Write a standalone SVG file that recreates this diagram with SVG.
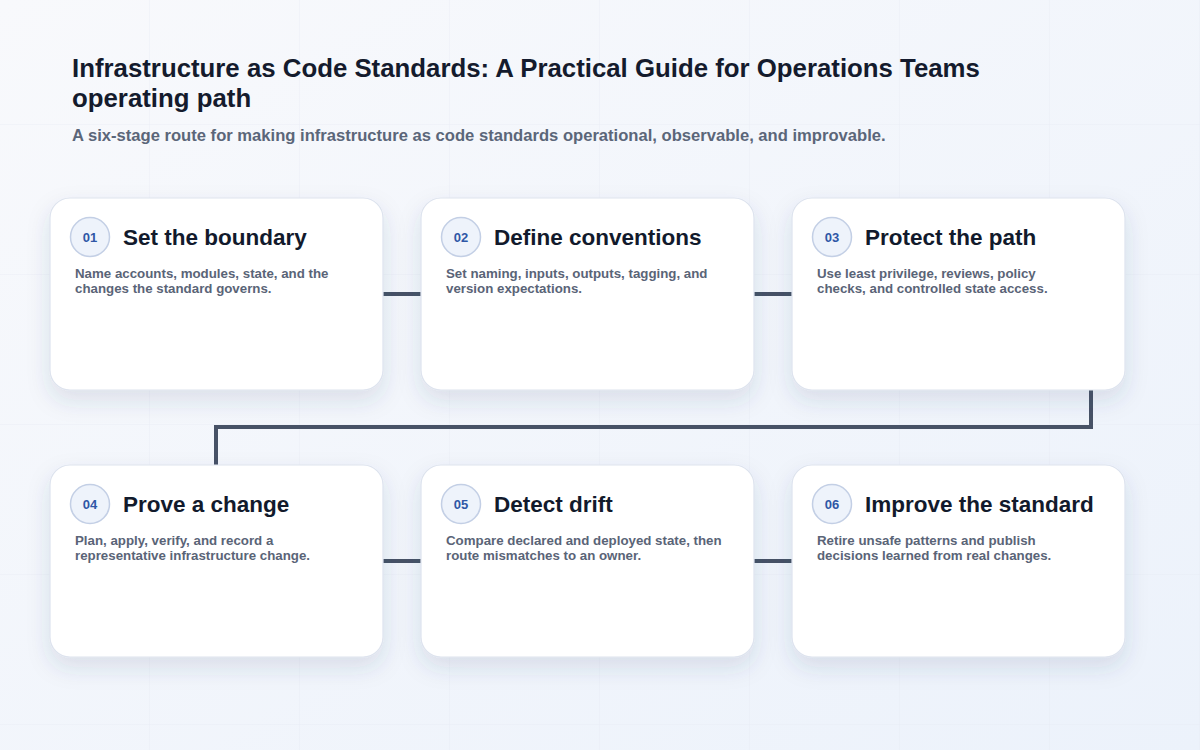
<svg xmlns="http://www.w3.org/2000/svg" width="1200" height="750" viewBox="0 0 1200 750">
<defs>
<linearGradient id="bg" x1="0" y1="0" x2="1" y2="1">
<stop offset="0" stop-color="#f8f9fc"/>
<stop offset="1" stop-color="#ecf2fb"/>
</linearGradient>
<pattern id="grid" x="0" y="-25" width="150" height="150" patternUnits="userSpaceOnUse">
<path d="M150 0V150M0 150H150" fill="none" stroke="#e3e8f0" stroke-width="1" opacity="0.6"/>
</pattern>
<filter id="sh" x="-20%" y="-20%" width="140%" height="150%">
<feDropShadow dx="0" dy="10" stdDeviation="11" flood-color="#27406e" flood-opacity="0.13"/>
</filter>
</defs>
<style>
.card{fill:#ffffff;stroke:#dde3ee;stroke-width:1.2;filter:url(#sh)}
.badge{fill:#eef3fb;stroke:#c3cfe5;stroke-width:1.5}
.num{font-family:"Liberation Sans",Arial,sans-serif;font-weight:700;font-size:13px;fill:#2f57a6;text-anchor:middle}
.ttl{font-family:"Liberation Sans",Arial,sans-serif;font-weight:700;font-size:22.5px;fill:#121a2c}
.desc{font-family:"Liberation Sans",Arial,sans-serif;font-weight:700;font-size:13.3px;fill:#5a6477}
.conn{fill:none;stroke:#475266;stroke-width:4;stroke-linejoin:miter}
</style>
<rect width="1200" height="750" fill="url(#bg)"/>
<rect width="1200" height="750" fill="url(#grid)"/>
<g id="header">
<text x="72" y="77" font-family="Liberation Sans, Arial, sans-serif" font-weight="700" font-size="25.8" fill="#141b2d">Infrastructure as Code Standards: A Practical Guide for Operations Teams</text>
<text x="72" y="107" font-family="Liberation Sans, Arial, sans-serif" font-weight="700" font-size="25.8" fill="#141b2d">operating path</text>
<text x="72" y="141" font-family="Liberation Sans, Arial, sans-serif" font-weight="700" font-size="16.6" fill="#5b6679">A six-stage route for making infrastructure as code standards operational, observable, and improvable.</text>
</g>
<g id="connectors">
<path class="conn" d="M383 294H421"/>
<path class="conn" d="M754 294H792"/>
<path class="conn" d="M1091 390V427H216V465"/>
<path class="conn" d="M383 561H421"/>
<path class="conn" d="M754 561H792"/>
</g>
<g id="node1">
<rect class="card" x="50" y="198" width="333" height="192" rx="20"/>
<circle class="badge" cx="90" cy="237" r="19.5"/>
<text class="num" x="90" y="242">01</text>
<text class="ttl" x="123" y="245">Set the boundary</text>
<text class="desc" x="75" y="278">Name accounts, modules, state, and the</text>
<text class="desc" x="75" y="293">changes the standard governs.</text>
</g>
<g id="node2">
<rect class="card" x="421" y="198" width="333" height="192" rx="20"/>
<circle class="badge" cx="461" cy="237" r="19.5"/>
<text class="num" x="461" y="242">02</text>
<text class="ttl" x="494" y="245">Define conventions</text>
<text class="desc" x="446" y="278">Set naming, inputs, outputs, tagging, and</text>
<text class="desc" x="446" y="293">version expectations.</text>
</g>
<g id="node3">
<rect class="card" x="792" y="198" width="333" height="192" rx="20"/>
<circle class="badge" cx="832" cy="237" r="19.5"/>
<text class="num" x="832" y="242">03</text>
<text class="ttl" x="865" y="245">Protect the path</text>
<text class="desc" x="817" y="278">Use least privilege, reviews, policy</text>
<text class="desc" x="817" y="293">checks, and controlled state access.</text>
</g>
<g id="node4">
<rect class="card" x="50" y="465" width="333" height="192" rx="20"/>
<circle class="badge" cx="90" cy="504" r="19.5"/>
<text class="num" x="90" y="509">04</text>
<text class="ttl" x="123" y="512">Prove a change</text>
<text class="desc" x="75" y="545">Plan, apply, verify, and record a</text>
<text class="desc" x="75" y="560">representative infrastructure change.</text>
</g>
<g id="node5">
<rect class="card" x="421" y="465" width="333" height="192" rx="20"/>
<circle class="badge" cx="461" cy="504" r="19.5"/>
<text class="num" x="461" y="509">05</text>
<text class="ttl" x="494" y="512">Detect drift</text>
<text class="desc" x="446" y="545">Compare declared and deployed state, then</text>
<text class="desc" x="446" y="560">route mismatches to an owner.</text>
</g>
<g id="node6">
<rect class="card" x="792" y="465" width="333" height="192" rx="20"/>
<circle class="badge" cx="832" cy="504" r="19.5"/>
<text class="num" x="832" y="509">06</text>
<text class="ttl" x="865" y="512">Improve the standard</text>
<text class="desc" x="817" y="545">Retire unsafe patterns and publish</text>
<text class="desc" x="817" y="560">decisions learned from real changes.</text>
</g>
</svg>
